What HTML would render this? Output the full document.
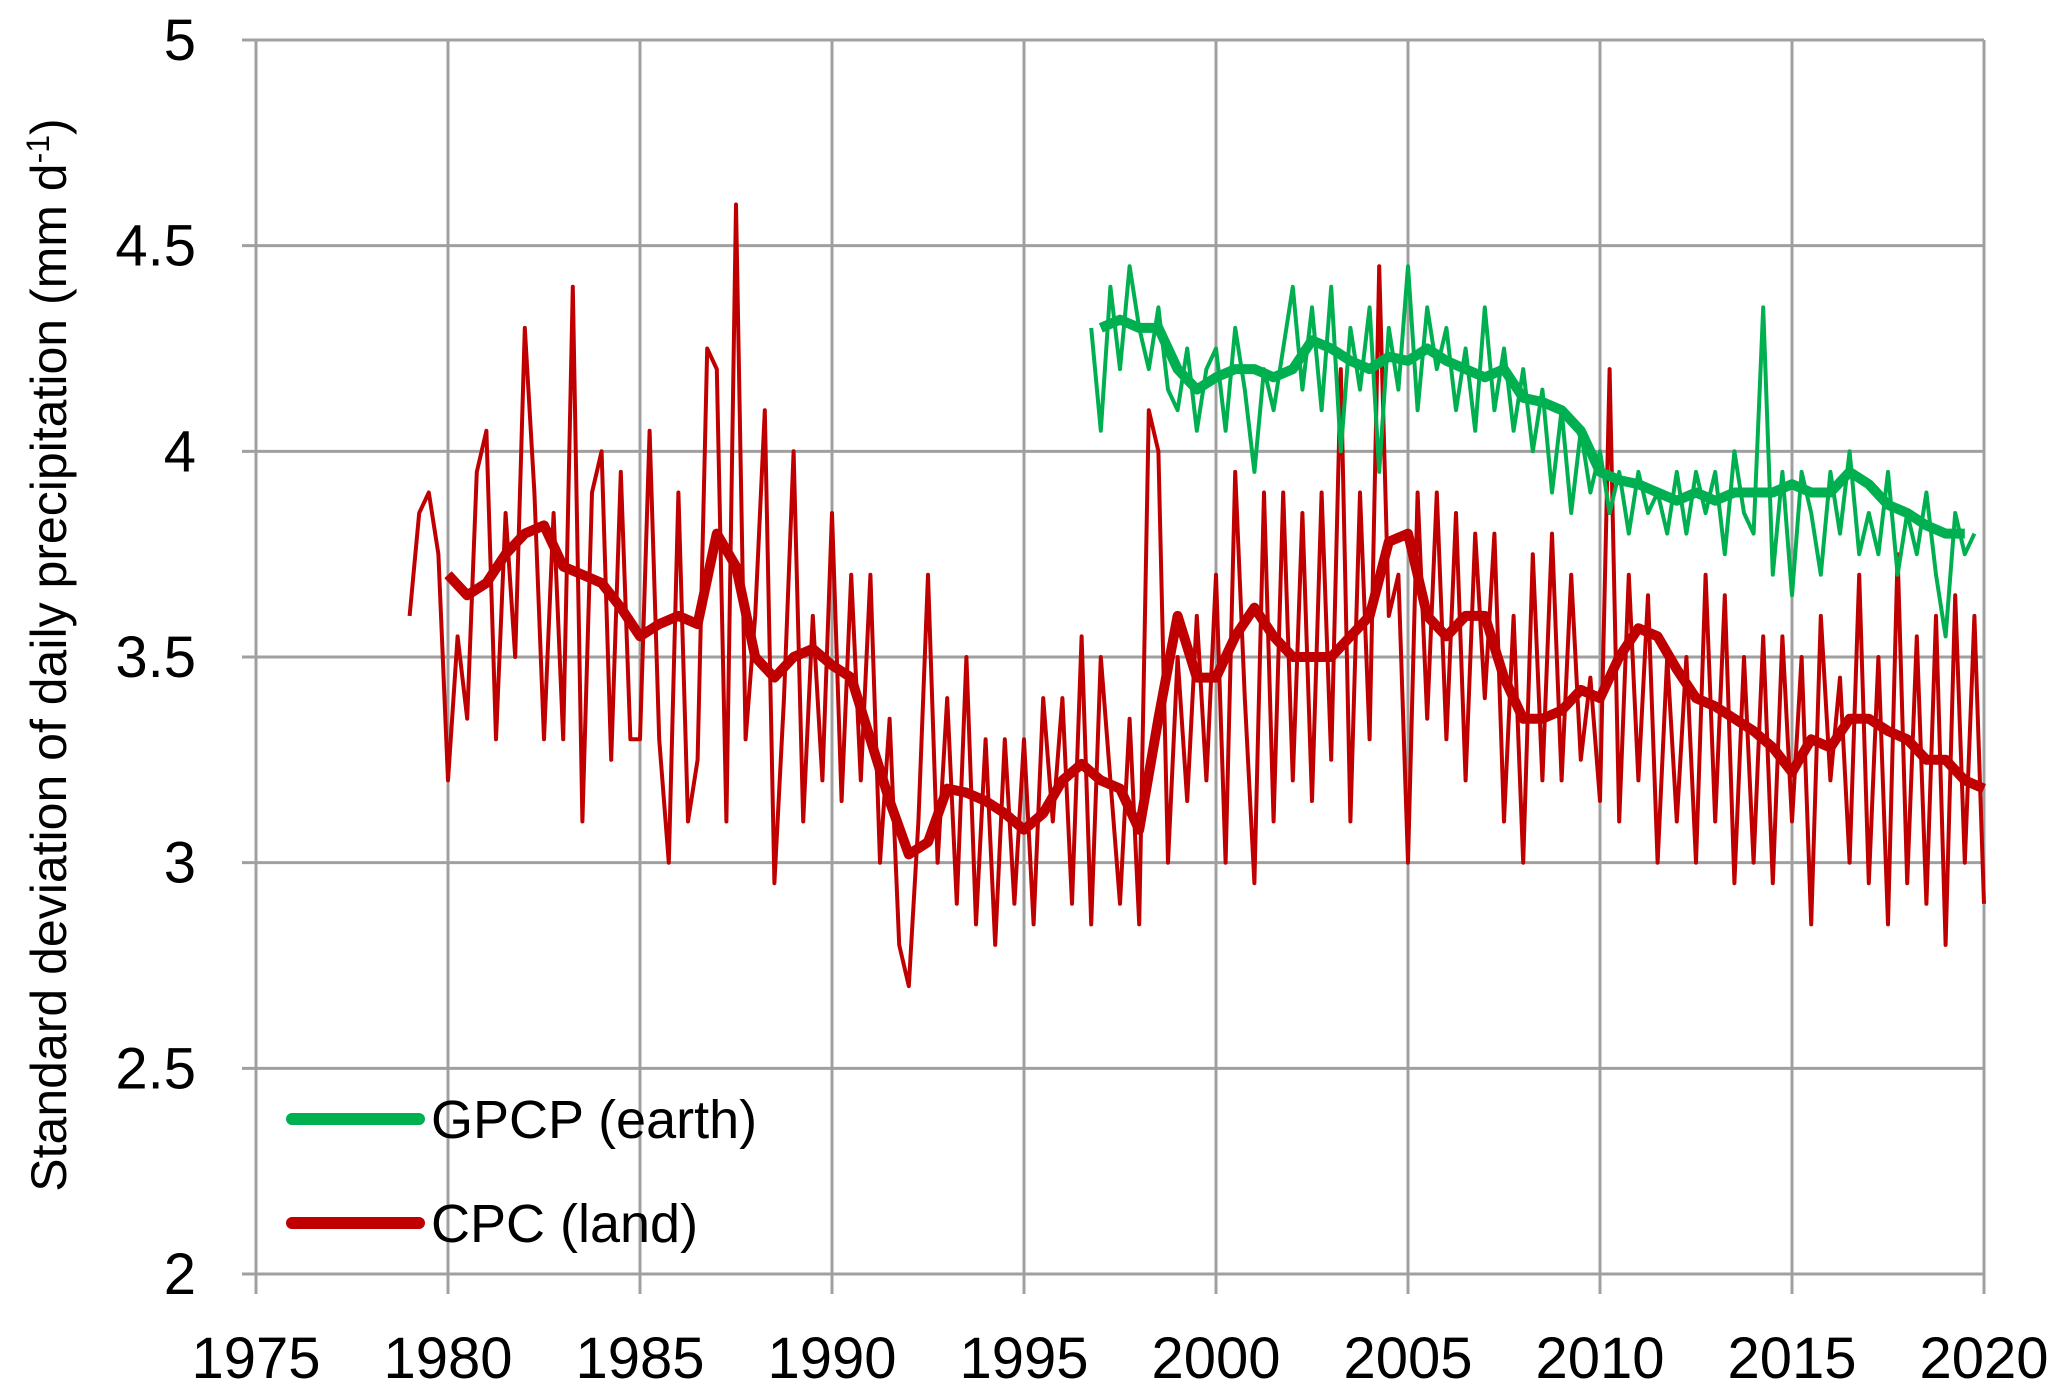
<!DOCTYPE html>
<html><head><meta charset="utf-8"><style>
html,body{margin:0;padding:0;background:#fff;}
svg{display:block;font-family:"Liberation Sans",sans-serif;}
</style></head><body>
<svg id="chart" width="2067" height="1395" viewBox="0 0 2067 1395" xmlns="http://www.w3.org/2000/svg">
<g id="grid"></g>
<g id="series"></g>
<g id="labels"></g>
<text transform="translate(66,655) rotate(-90)" text-anchor="middle" font-size="50" fill="#000">Standard deviation of daily precipitation (mm d<tspan dy="-17" font-size="32">-1</tspan><tspan dy="17">)</tspan></text>
<g>
<line x1="292" y1="1119" x2="419" y2="1119" stroke="#00b050" stroke-width="12" stroke-linecap="round"/>
<text x="431" y="1138" font-size="54" fill="#000">GPCP (earth)</text>
<line x1="292" y1="1223" x2="419" y2="1223" stroke="#c00000" stroke-width="12" stroke-linecap="round"/>
<text x="431" y="1242" font-size="54" fill="#000">CPC (land)</text>
</g>
</svg>
<script>
const xTicks=[1975,1980,1985,1990,1995,2000,2005,2010,2015,2020];
const yTicks=[2,2.5,3,3.5,4,4.5,5];
const yTickLabels=["2","2.5","3","3.5","4","4.5","5"];
const cpcStart=1979.0, cpcStep=0.25;
const cpcRaw=[3.6,3.85,3.9,3.75, 3.2,3.55,3.35,3.95, 4.05,3.3,3.85,3.5, 4.3,3.9,3.3,3.85, 3.3,4.4,3.1,3.9, 4.0,3.25,3.95,3.3, 3.3,4.05,3.3,3.0, 3.9,3.1,3.25,4.25, 4.2,3.1,4.6,3.3, 3.6,4.1,2.95,3.4, 4.0,3.1,3.6,3.2, 3.85,3.15,3.7,3.2, 3.7,3.0,3.35,2.8, 2.7,3.1,3.7,3.0, 3.4,2.9,3.5,2.85, 3.3,2.8,3.3,2.9, 3.3,2.85,3.4,3.1, 3.4,2.9,3.55,2.85, 3.5,3.2,2.9,3.35, 2.85,4.1,4.0,3.0, 3.5,3.15,3.6,3.2, 3.7,3.0,3.95,3.4, 2.95,3.9,3.1,3.9, 3.2,3.85,3.15,3.9, 3.25,4.2,3.1,3.9, 3.3,4.45,3.6,3.7, 3.0,3.9,3.35,3.9, 3.3,3.85,3.2,3.8, 3.4,3.8,3.1,3.6, 3.0,3.75,3.2,3.8, 3.2,3.7,3.25,3.45, 3.15,4.2,3.1,3.7, 3.2,3.65,3.0,3.5, 3.1,3.5,3.0,3.7, 3.1,3.65,2.95,3.5, 3.0,3.55,2.95,3.55, 3.1,3.5,2.85,3.6, 3.2,3.45,3.0,3.7, 2.95,3.5,2.85,3.75, 2.95,3.55,2.9,3.6, 2.8,3.65,3.0,3.6, 2.9];
const cpcSmoothStart=1980.0, cpcSmoothStep=0.5;
const cpcSmooth=[3.7,3.65,3.68,3.75,3.8,3.82,3.72,3.7,3.68,3.62,3.55,3.58,3.6,3.58,3.8,3.72,3.5,3.45,3.5,3.52,3.48,3.45,3.3,3.15,3.02,3.05,3.18,3.17,3.15,3.12,3.08,3.12,3.2,3.24,3.2,3.18,3.08,3.35,3.6,3.45,3.45,3.55,3.62,3.55,3.5,3.5,3.5,3.55,3.6,3.78,3.8,3.6,3.55,3.6,3.6,3.45,3.35,3.35,3.37,3.42,3.4,3.5,3.57,3.55,3.47,3.4,3.38,3.35,3.32,3.28,3.22,3.3,3.28,3.35,3.35,3.32,3.3,3.25,3.25,3.2,3.18];
const gpcpStart=1996.75, gpcpStep=0.25;
const gpcpRaw=[4.3, 4.05,4.4,4.2,4.45, 4.3,4.2,4.35,4.15, 4.1,4.25,4.05,4.2, 4.25,4.05,4.3,4.15, 3.95,4.2,4.1,4.25, 4.4,4.15,4.35,4.1, 4.4,4.0,4.3,4.15, 4.35,3.95,4.3,4.15, 4.45,4.1,4.35,4.2, 4.3,4.1,4.25,4.05, 4.35,4.1,4.25,4.05, 4.2,4.0,4.15,3.9, 4.1,3.85,4.05,3.9, 4.0,3.85,3.95,3.8, 3.95,3.85,3.9,3.8, 3.95,3.8,3.95,3.85, 3.95,3.75,4.0,3.85, 3.8,4.35,3.7,3.95, 3.65,3.95,3.85,3.7, 3.95,3.8,4.0,3.75, 3.85,3.75,3.95,3.7, 3.85,3.75,3.9,3.7, 3.55,3.85,3.75,3.8];
const gpcpSmoothStart=1997.0, gpcpSmoothStep=0.5;
const gpcpSmooth=[4.3,4.32,4.3,4.3,4.2,4.15,4.18,4.2,4.2,4.18,4.2,4.27,4.25,4.22,4.2,4.23,4.22,4.25,4.22,4.2,4.18,4.2,4.13,4.12,4.1,4.05,3.95,3.93,3.92,3.9,3.88,3.9,3.88,3.9,3.9,3.9,3.92,3.9,3.9,3.95,3.92,3.87,3.85,3.82,3.8,3.8];

const X0=256,X1=1984,YT=40,YB=1274;
const xs=v=>X0+(v-1975)/(2020-1975)*(X1-X0);
const ys=v=>YB-(v-2)/(5-2)*(YB-YT);
const NS="http://www.w3.org/2000/svg";
const grid=document.getElementById('grid'),ser=document.getElementById('series'),lab=document.getElementById('labels');
function mk(tag,parent){const e=document.createElementNS(NS,tag);parent.appendChild(e);return e;}
xTicks.forEach(t=>{
  const l=mk('line',grid);
  
  
  l.setAttribute('x1',xs(t));l.setAttribute('x2',xs(t));l.setAttribute('y1',YT);l.setAttribute('y2',YB+20);
  l.setAttribute('stroke','#a0a0a0');l.setAttribute('stroke-width','3');
  const tx=mk('text',lab);
  
  
  tx.setAttribute('x',xs(t));tx.setAttribute('y',1378);tx.setAttribute('text-anchor','middle');tx.setAttribute('font-size','58');
  tx.textContent=t;
});
yTicks.forEach((t,i)=>{
  const l=mk('line',grid);
  
  
  l.setAttribute('x1',X0-14);l.setAttribute('x2',X1);l.setAttribute('y1',ys(t));l.setAttribute('y2',ys(t));
  l.setAttribute('stroke','#a0a0a0');l.setAttribute('stroke-width','3');
  const tx=mk('text',lab);
  
  
  tx.setAttribute('x',196);tx.setAttribute('y',ys(t)+20);tx.setAttribute('text-anchor','end');tx.setAttribute('font-size','58');
  tx.textContent=yTickLabels[i];
});
function line(arr,start,step,color,w,name){
  const p=mk('polyline',ser);
  
  
  p.setAttribute('points',arr.map((v,i)=>xs(start+i*step).toFixed(1)+','+ys(v).toFixed(1)).join(' '));
  p.setAttribute('fill','none');p.setAttribute('stroke',color);p.setAttribute('stroke-width',w);p.setAttribute('stroke-linejoin','round');
}
line(cpcRaw,cpcStart,cpcStep,'#c00000',4,'cpc-monthly-line');
line(gpcpRaw,gpcpStart,gpcpStep,'#00b050',4,'gpcp-monthly-line');
line(cpcSmooth,cpcSmoothStart,cpcSmoothStep,'#c00000',10,'cpc-smoothed-line');
line(gpcpSmooth,gpcpSmoothStart,gpcpSmoothStep,'#00b050',10,'gpcp-smoothed-line');
</script>
</body></html>
